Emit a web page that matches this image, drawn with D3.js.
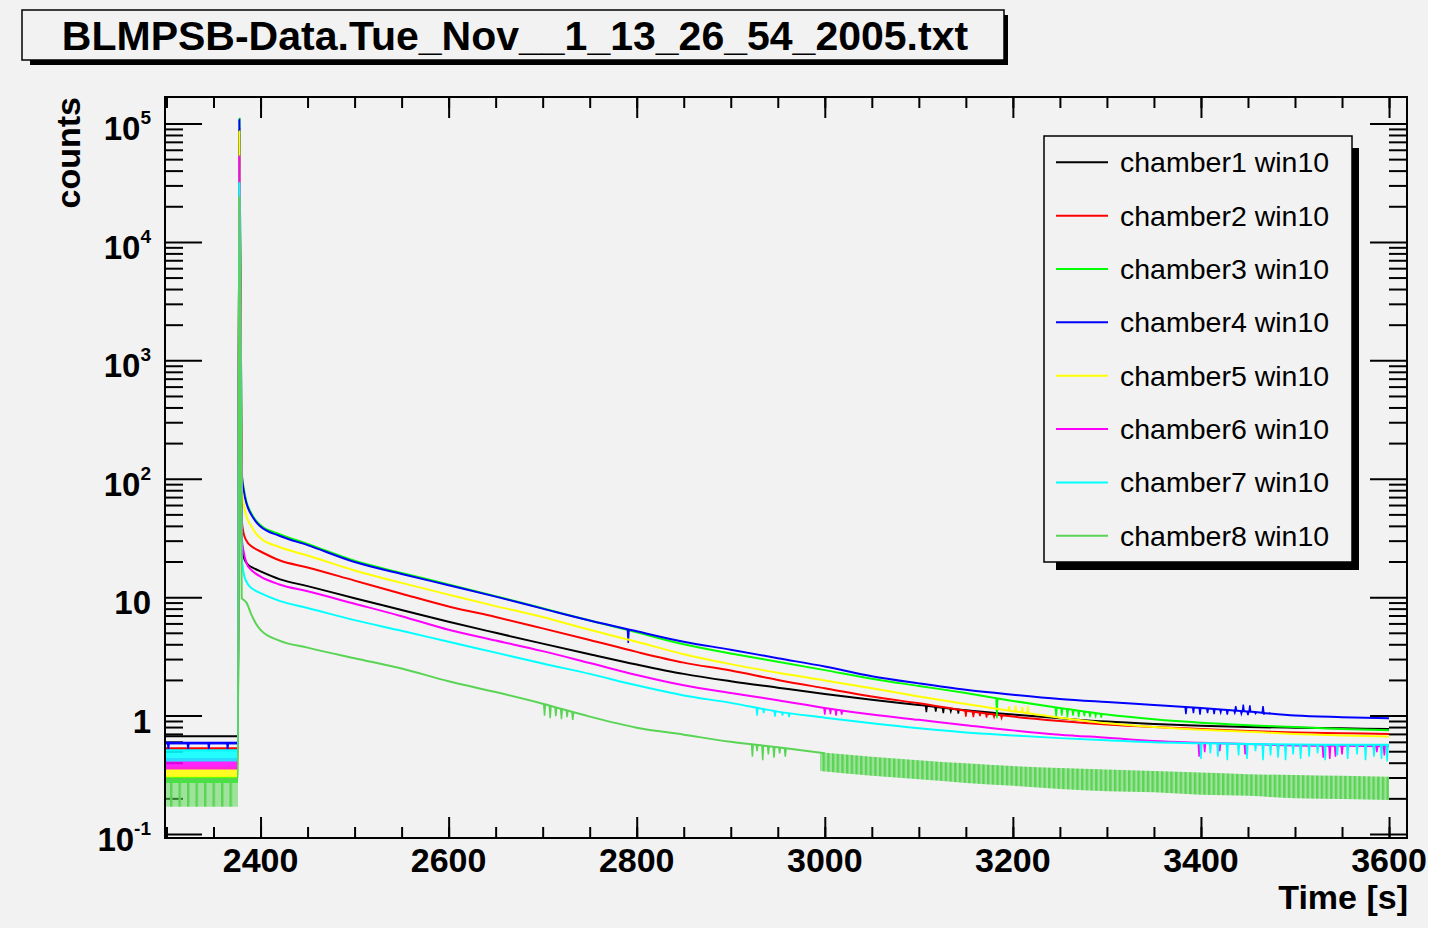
<!DOCTYPE html>
<html>
<head>
<meta charset="utf-8">
<script src="https://cdn.jsdelivr.net/npm/d3@7"></script>
<style>
body { margin: 0; background: #ffffff; }
</style>
</head>
<body>
<svg id="c" width="1432" height="930"></svg>
<script>
// ---- data ----
var titleText = "BLMPSB-Data.Tue_Nov__1_13_26_54_2005.txt";
var names = ["chamber1 win10", "chamber2 win10", "chamber3 win10", "chamber4 win10",
             "chamber5 win10", "chamber6 win10", "chamber7 win10", "chamber8 win10"];
var colors = ["#000000", "#ff0000", "#00ff00", "#0000ff", "#ffff00", "#ff00ff", "#00ffff", "#59d454"];

// flat, noisy part before the beam spike
var preTimes = [2298, 2376];
var preHi = [0.67, 0.53, 0.30, 0.59, 0.36, 0.43, 0.51, 0.29];
var preLo = [0.66, 0.50, 0.27, 0.57, 0.30, 0.35, 0.41, 0.17];
// spike
var spikeTime = 2377.5;
var peaks = [8.0e4, 9.0e4, 1.1e5, 1.08e5, 8.6e4, 5.3e4, 3.16e4, 2.4e4];

// decay after the spike
var times = [2380, 2382, 2385, 2390, 2395, 2400, 2420, 2450, 2500, 2550, 2600, 2650, 2700, 2750, 2800,
             2850, 2900, 2950, 3000, 3050, 3100, 3150, 3200, 3250, 3300, 3350, 3400, 3450, 3500, 3550, 3600];
var ch1 = [30, 22, 19.5, 18, 17.2, 16.5, 14.2, 12.4, 9.8, 7.8, 6.2, 5.0, 4.05, 3.3, 2.7,
           2.25, 1.95, 1.72, 1.52, 1.36, 1.23, 1.11, 1.02, 0.95, 0.89, 0.85, 0.82, 0.8, 0.79, 0.78, 0.77];
var ch2 = [45, 34.7, 30, 27, 25.5, 24.3, 20.5, 17.8, 13.8, 10.7, 8.35, 6.8, 5.45, 4.35, 3.45,
           2.8, 2.4, 2.0, 1.7, 1.45, 1.27, 1.1, 0.98, 0.9, 0.84, 0.8, 0.77, 0.74, 0.72, 0.71, 0.70];
var ch3 = [115, 84, 64, 51.5, 44.5, 40.5, 34, 28.2, 20.3, 16.0, 12.8, 10.2, 8.05, 6.35, 5.05,
           4.0, 3.35, 2.85, 2.42, 2.05, 1.78, 1.55, 1.33, 1.16, 1.02, 0.93, 0.87, 0.83, 0.8, 0.77, 0.75];
var ch4 = [110, 80, 62, 50, 43.5, 39.5, 33, 27.5, 19.8, 15.7, 12.6, 10.1, 8.0, 6.35, 5.15,
           4.2, 3.6, 3.05, 2.6, 2.15, 1.87, 1.65, 1.5, 1.38, 1.3, 1.23, 1.16, 1.08, 1.0, 0.97, 0.95];
var ch5 = [85, 62, 48, 40, 34.5, 31.5, 26.5, 22.5, 16.8, 13.2, 10.5, 8.4, 6.8, 5.3, 4.2,
           3.3, 2.72, 2.3, 1.98, 1.7, 1.45, 1.25, 1.09, 0.96, 0.86, 0.8, 0.76, 0.73, 0.7, 0.68, 0.665];
var ch6 = [32, 24.3, 19.5, 17, 15.8, 14.9, 12.8, 11.2, 8.8, 6.9, 5.3, 4.3, 3.5, 2.78, 2.2,
           1.8, 1.55, 1.35, 1.16, 1.02, 0.92, 0.83, 0.75, 0.69, 0.65, 0.61, 0.59, 0.575, 0.56, 0.555, 0.55];
var ch7 = [22, 16, 13.5, 12, 11.3, 10.8, 9.3, 8.1, 6.4, 5.2, 4.2, 3.4, 2.75, 2.25, 1.8,
           1.48, 1.28, 1.08, 0.96, 0.86, 0.78, 0.72, 0.68, 0.645, 0.62, 0.595, 0.585, 0.575, 0.57, 0.567, 0.566];
var ch8 = [9.8, 9.5, 9.0, 7.2, 6.0, 5.3, 4.3, 3.75, 3.05, 2.5, 1.95, 1.58, 1.26, 0.98, 0.79,
           0.69, 0.6, 0.54, 0.48, 0.45, 0.42, 0.395, 0.375, 0.36, 0.35, 0.34, 0.33, 0.32, 0.315, 0.31, 0.305];

// chamber8 oscillates between these two levels in the tail
var ch8BandTimes = [2995, 3050, 3100, 3150, 3200, 3250, 3300, 3350, 3400, 3450, 3500, 3550, 3600];
var ch8BandHi = [0.49, 0.45, 0.42, 0.395, 0.375, 0.36, 0.35, 0.34, 0.33, 0.32, 0.315, 0.31, 0.305];
var ch8BandLo = [0.34, 0.31, 0.29, 0.27, 0.255, 0.24, 0.23, 0.225, 0.215, 0.21, 0.2, 0.197, 0.194];

// single glitches: [time, value]
var ch1Spikes = [[3108, 1.07], [3118, 1.08], [3126, 1.05], [3134, 1.08], [3142, 1.04], [3150, 1.07],
                 [3158, 1.03], [3166, 1.06], [3174, 1.03], [3182, 1.02]];
var ch2Spikes = [[3150, 0.98], [3158, 0.97], [3165, 0.99], [3172, 0.96], [3180, 0.97], [3188, 0.95]];
var ch3Spikes = [[3183, 0.95], [3246, 0.98], [3252, 1.0], [3258, 0.97], [3264, 1.0], [3270, 0.97],
                 [3276, 0.99], [3282, 0.97], [3288, 0.99], [3294, 0.96]];
var ch4Spikes = [[2302, 0.51], [2323, 0.51], [2345, 0.51], [2365, 0.51], [2791, 4.1],
                 [3384, 1.03], [3392, 1.05], [3399, 1.02], [3407, 1.05], [3414, 1.03], [3421, 1.06],
                 [3428, 1.02], [3436, 1.05], [3437, 1.2], [3443, 1.03], [3445, 1.24], [3450, 1.01],
                 [3452, 1.22], [3458, 1.04], [3466, 1.2], [3467, 1.03], [3473, 1.05]];
var ch5Spikes = [[3196, 1.2], [3203, 1.22], [3210, 1.18], [3216, 1.2]];
var ch6Spikes = [[3000, 1.02], [3006, 1.03], [3012, 1.0], [3018, 1.02], [3398, 0.45], [3404, 0.49],
                 [3420, 0.5], [3447, 0.47], [3482, 0.5], [3530, 0.44], [3537, 0.43], [3543, 0.45],
                 [3550, 0.47], [3587, 0.49], [3595, 0.46]];
var ch7Spikes = [[2928, 1.0], [2935, 1.05], [2947, 0.98], [2955, 1.0], [2962, 0.97],
                 [3400, 0.43], [3410, 0.48], [3418, 0.45], [3428, 0.42], [3440, 0.46], [3449, 0.43],
                 [3458, 0.5], [3466, 0.42], [3474, 0.46], [3482, 0.44], [3490, 0.42], [3498, 0.47],
                 [3506, 0.43], [3515, 0.45], [3524, 0.48], [3532, 0.42], [3545, 0.46], [3556, 0.43],
                 [3566, 0.47], [3575, 0.42], [3584, 0.45], [3592, 0.43], [3598, 0.41]];
var ch8Spikes = [[2702, 1.0], [2708, 0.95], [2714, 0.99], [2720, 0.93], [2726, 0.97], [2732, 0.92],
                 [2923, 0.45], [2928, 0.5], [2934, 0.42], [2940, 0.47], [2946, 0.44], [2952, 0.48], [2958, 0.45]];

// axis ticks and labels
var xMajor = [2400, 2600, 2800, 3000, 3200, 3400, 3600];
var xLabels = ["2400", "2600", "2800", "3000", "3200", "3400", "3600"];
var yMajor = [0.1, 1, 10, 100, 1000, 10000, 100000];
var yBase = ["10", "1", "10", "10", "10", "10", "10"];
var yExp = ["-1", "", "", "2", "3", "4", "5"];

var series = [ch1, ch2, ch3, ch4, ch5, ch6, ch7, ch8];
var spikes = [ch1Spikes, ch2Spikes, ch3Spikes, ch4Spikes, ch5Spikes, ch6Spikes, ch7Spikes, ch8Spikes];

// ---- drawing ----
var ff = "'Liberation Sans', Arial, Helvetica, sans-serif";
var svg = d3.select("#c");
svg.append("rect").attr("x", 0).attr("y", 0).attr("width", 1428).attr("height", 928).style("fill", "#f2f2f2");

// striped fill that stands in for the fast zig-zag of chamber8
var defs = svg.append("defs");
function stripes(id, w) {
  var pat = defs.append("pattern").attr("id", id).attr("patternUnits", "userSpaceOnUse")
    .attr("width", w).attr("height", 20);
  pat.append("rect").attr("width", w).attr("height", 20).style("fill", colors[7]).style("opacity", 0.55);
  pat.append("rect").attr("width", 2.4).attr("height", 20).style("fill", colors[7]);
}
stripes("zigTail", 4.7);
stripes("zigPre", 8.5);

var fl = 165, fr = 1407, ft = 97, fb = 838;
var x = d3.scaleLinear().domain([2298.4, 3619.1]).range([fl, fr]);
var y = d3.scaleLog().domain([0.0925, 1.674e5]).range([fb, ft]);

var xMinor = d3.range(2300, 3601, 50);
var yMinor = [];
for (var k = -2; k <= 5; k++) {
  for (var m = 2; m <= 9; m++) {
    var v = m * Math.pow(10, k);
    if (v > y.domain()[0] && v < y.domain()[1]) yMinor.push(v);
  }
}

function ticks(axisFn, scale, vals, size, tx, ty) {
  var g = svg.append("g").attr("transform", "translate(" + tx + "," + ty + ")")
    .call(axisFn(scale).tickValues(vals).tickSize(size).tickFormat(""));
  g.select(".domain").remove();
  g.selectAll("line").style("stroke", "#000").style("stroke-width", 2);
}
ticks(d3.axisTop, x, xMajor, 21, 0, fb);
ticks(d3.axisTop, x, xMinor, 11, 0, fb);
ticks(d3.axisBottom, x, xMajor, 21, 0, ft);
ticks(d3.axisBottom, x, xMinor, 11, 0, ft);
ticks(d3.axisRight, y, yMajor, 37, fl, 0);
ticks(d3.axisRight, y, yMinor, 18, fl, 0);
ticks(d3.axisLeft, y, yMajor, 37, fr, 0);
ticks(d3.axisLeft, y, yMinor, 18, fr, 0);

svg.append("clipPath").attr("id", "frame").append("rect")
  .attr("x", fl).attr("y", ft).attr("width", fr - fl).attr("height", fb - ft);
var plot = svg.append("g").attr("clip-path", "url(#frame)");

function points(i) {
  var p = [[preTimes[0], preHi[i]], [preTimes[1], preHi[i]], [spikeTime, peaks[i]]];
  times.forEach(function(t, j) { p.push([t, series[i][j]]); });
  return p;
}
function baseAt(p, t) {
  for (var j = 0; j < p.length - 1; j++) {
    if (t >= p[j][0] && t <= p[j + 1][0]) {
      var f = (t - p[j][0]) / (p[j + 1][0] - p[j][0]);
      return Math.exp(Math.log(p[j][1]) * (1 - f) + Math.log(p[j + 1][1]) * f);
    }
  }
  return p[p.length - 1][1];
}

var line = d3.line().x(function(d) { return x(d[0]); }).y(function(d) { return y(d[1]); })
  .curve(d3.curveMonotoneX);
var area = d3.area().x(function(d) { return x(d[0]); })
  .y0(function(d) { return y(d[1]); }).y1(function(d) { return y(d[2]); })
  .curve(d3.curveMonotoneX);

series.forEach(function(s, i) {
  var p = points(i);
  if (preHi[i] - preLo[i] > 0.015) {
    plot.append("path")
      .attr("d", area([[preTimes[0], preLo[i], preHi[i]], [preTimes[1], preLo[i], preHi[i]]]))
      .style("fill", i == 7 ? "url(#zigPre)" : colors[i]).style("opacity", i == 7 ? 1 : 0.85);
  }
  var lp = i == 7 ? p.filter(function(d) { return d[0] <= ch8BandTimes[0] + 5; }) : p;
  plot.append("path").attr("d", line(lp))
    .style("fill", "none").style("stroke", colors[i]).style("stroke-width", 2);
  spikes[i].forEach(function(sp) {
    var b = baseAt(p, sp[0]);
    plot.append("path")
      .attr("d", "M" + x(sp[0] - 0.9) + "," + y(b) + "L" + x(sp[0]) + "," + y(sp[1]) + "L" + x(sp[0] + 0.9) + "," + y(b))
      .style("fill", "none").style("stroke", colors[i]).style("stroke-width", 1.5);
  });
});

var band = ch8BandTimes.map(function(t, j) { return [t, ch8BandLo[j], ch8BandHi[j]]; });
plot.append("path").attr("d", area(band)).style("fill", "url(#zigTail)");

// frame
svg.append("rect").attr("x", fl).attr("y", ft).attr("width", fr - fl).attr("height", fb - ft)
  .style("fill", "none").style("stroke", "#000").style("stroke-width", 2);

// axis labels
xMajor.forEach(function(v, i) {
  svg.append("text").attr("x", x(v)).attr("y", 872).attr("text-anchor", "middle").text(xLabels[i])
    .style("font-family", ff).style("font-weight", "bold").style("font-size", "34px").style("fill", "#000");
});
yMajor.forEach(function(v, i) {
  var t = svg.append("text").attr("x", 151).attr("y", y(v) + 17).attr("text-anchor", "end")
    .style("font-family", ff).style("font-weight", "bold").style("font-size", "33px").style("fill", "#000");
  t.append("tspan").text(yBase[i]);
  if (yExp[i]) t.append("tspan").attr("dy", -16).style("font-size", "19px").text(yExp[i]);
});
svg.append("text").attr("x", 1408).attr("y", 909).attr("text-anchor", "end").text("Time [s]")
  .style("font-family", ff).style("font-weight", "bold").style("font-size", "34px");
svg.append("text").attr("transform", "translate(80,97) rotate(-90)").attr("text-anchor", "end").text("counts")
  .style("font-family", ff).style("font-weight", "bold").style("font-size", "34px");

// title box
svg.append("rect").attr("x", 30).attr("y", 60).attr("width", 978).attr("height", 5).style("fill", "#000");
svg.append("rect").attr("x", 1003).attr("y", 15).attr("width", 5).attr("height", 50).style("fill", "#000");
svg.append("rect").attr("x", 22).attr("y", 10).attr("width", 982).attr("height", 50)
  .style("fill", "#f2f2f2").style("stroke", "#000").style("stroke-width", 1.5);
svg.append("text").attr("x", 515).attr("y", 50).attr("text-anchor", "middle").text(titleText)
  .style("font-family", ff).style("font-weight", "bold").style("font-size", "41px");

// legend
var lx = 1044, ly = 136, lw = 308, lh = 426;
svg.append("rect").attr("x", lx + 12).attr("y", ly + lh).attr("width", lw - 5).attr("height", 8).style("fill", "#000");
svg.append("rect").attr("x", lx + lw).attr("y", ly + 12).attr("width", 7).attr("height", lh - 4).style("fill", "#000");
svg.append("rect").attr("x", lx).attr("y", ly).attr("width", lw).attr("height", lh)
  .style("fill", "#f2f2f2").style("stroke", "#000").style("stroke-width", 1.5);
names.forEach(function(n, i) {
  var ry = 162.3 + i * 53.35;
  svg.append("line").attr("x1", 1056).attr("x2", 1108).attr("y1", ry).attr("y2", ry)
    .style("stroke", colors[i]).style("stroke-width", 2);
  svg.append("text").attr("x", 1120).attr("y", ry + 10).text(n)
    .style("font-family", ff).style("font-size", "28.5px").style("fill", "#000");
});
</script>
</body>
</html>
